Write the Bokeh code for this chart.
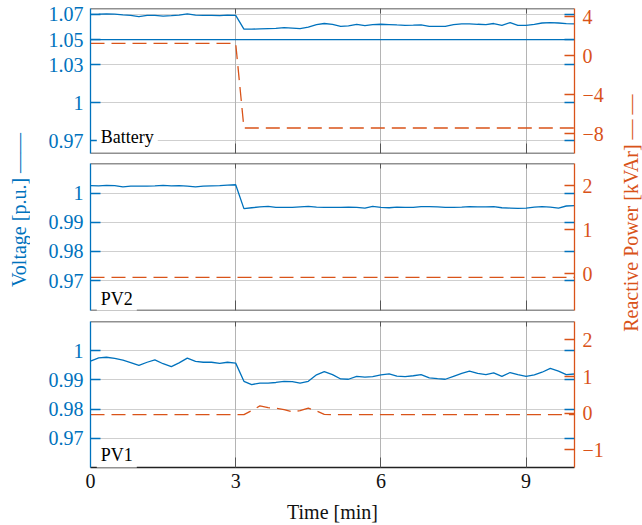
import numpy as np
from bokeh.plotting import figure
from bokeh.layouts import row, column
from bokeh.models import (Range1d, LinearAxis, FixedTicker, CustomJSTickFormatter,
                          Grid, Label)
from bokeh.core.properties import value
from bokeh.embed import file_html
from bokeh.resources import INLINE

BLUE = "#0072BD"
ORANGE = "#D95319"
FONT = "Liberation Serif"

# ---------------- data ----------------
t = [0.00, 0.17, 0.33, 0.50, 0.67, 0.83, 1.00, 1.17, 1.33, 1.50, 1.67, 1.83,
     2.00, 2.17, 2.33, 2.50, 2.67, 2.83, 3.00, 3.17, 3.33, 3.50, 3.67, 3.83,
     4.00, 4.17, 4.33, 4.50, 4.67, 4.83, 5.00, 5.17, 5.33, 5.50, 5.67, 5.83,
     6.00, 6.17, 6.33, 6.50, 6.67, 6.83, 7.00, 7.17, 7.33, 7.50, 7.67, 7.83,
     8.00, 8.17, 8.33, 8.50, 8.67, 8.83, 9.00, 9.17, 9.33, 9.50, 9.67, 9.83,
     10.00]

v_battery = [1.0700, 1.0702, 1.0705, 1.0703, 1.0697, 1.0692, 1.0682, 1.0693,
             1.0692, 1.0686, 1.0690, 1.0695, 1.0704, 1.0694, 1.0693, 1.0692,
             1.0690, 1.0694, 1.0692, 1.0583, 1.0583, 1.0586, 1.0588, 1.0590,
             1.0595, 1.0592, 1.0588, 1.0600, 1.0620, 1.0628, 1.0622, 1.0606,
             1.0610, 1.0622, 1.0611, 1.0620, 1.0622, 1.0620, 1.0617, 1.0614,
             1.0615, 1.0617, 1.0606, 1.0606, 1.0606, 1.0620, 1.0625, 1.0625,
             1.0622, 1.0620, 1.0628, 1.0614, 1.0635, 1.0614, 1.0614, 1.0622,
             1.0632, 1.0635, 1.0632, 1.0627, 1.0625]
q_battery = [1.27, 1.27, 1.27, 1.27, 1.27, 1.27, 1.27, 1.27, 1.27, 1.27,
             1.27, 1.27, 1.27, 1.27, 1.27, 1.27, 1.27, 1.27, 1.27, -7.41,
             -7.41, -7.41, -7.41, -7.41, -7.41, -7.41, -7.41, -7.41, -7.41, -7.41,
             -7.41, -7.41, -7.41, -7.41, -7.41, -7.41, -7.41, -7.41, -7.41, -7.41,
             -7.41, -7.41, -7.41, -7.41, -7.41, -7.41, -7.41, -7.41, -7.41, -7.41,
             -7.41, -7.41, -7.41, -7.41, -7.41, -7.41, -7.41, -7.41, -7.41, -7.41,
             -7.41]
t_ref = [0.0, 10.0]
v_ref_battery = [1.05, 1.05]

v_pv2 = [1.0026, 1.0025, 1.0027, 1.0026, 1.0022, 1.0024, 1.0024, 1.0024,
         1.0025, 1.0027, 1.0025, 1.0026, 1.0024, 1.0022, 1.0024, 1.0025,
         1.0026, 1.0028, 1.0029, 0.9947, 0.9950, 0.9953, 0.9955, 0.9951,
         0.9951, 0.9951, 0.9953, 0.9955, 0.9952, 0.9951, 0.9951, 0.9951,
         0.9952, 0.9951, 0.9949, 0.9955, 0.9951, 0.9950, 0.9952, 0.9951,
         0.9951, 0.9954, 0.9954, 0.9953, 0.9951, 0.9951, 0.9952, 0.9954,
         0.9953, 0.9953, 0.9954, 0.9950, 0.9949, 0.9948, 0.9949, 0.9952,
         0.9954, 0.9952, 0.9949, 0.9956, 0.9957]
q_pv2 = [-0.08, -0.08, -0.08, -0.08, -0.08, -0.08, -0.08, -0.08, -0.08, -0.08,
         -0.08, -0.08, -0.08, -0.08, -0.08, -0.08, -0.08, -0.08, -0.08, -0.08,
         -0.08, -0.08, -0.08, -0.08, -0.08, -0.08, -0.08, -0.08, -0.08, -0.08,
         -0.08, -0.08, -0.08, -0.08, -0.08, -0.08, -0.08, -0.08, -0.08, -0.08,
         -0.08, -0.08, -0.08, -0.08, -0.08, -0.08, -0.08, -0.08, -0.08, -0.08,
         -0.08, -0.08, -0.08, -0.08, -0.08, -0.08, -0.08, -0.08, -0.08, -0.08,
         -0.08]

v_pv1 = [0.9964, 0.9975, 0.9977, 0.9973, 0.9967, 0.9959, 0.9949, 0.9960,
         0.9968, 0.9955, 0.9945, 0.9958, 0.9974, 0.9963, 0.9960, 0.9960,
         0.9956, 0.9960, 0.9957, 0.9895, 0.9884, 0.9889, 0.9889, 0.9891,
         0.9895, 0.9894, 0.9889, 0.9895, 0.9917, 0.9928, 0.9918, 0.9903,
         0.9902, 0.9912, 0.9909, 0.9911, 0.9917, 0.9920, 0.9913, 0.9911,
         0.9914, 0.9918, 0.9907, 0.9904, 0.9902, 0.9912, 0.9922, 0.9930,
         0.9922, 0.9918, 0.9924, 0.9912, 0.9925, 0.9918, 0.9912, 0.9917,
         0.9926, 0.9939, 0.9930, 0.9918, 0.9920]
q_pv1 = [-0.04, -0.04, -0.04, -0.04, -0.04, -0.04, -0.04, -0.04, -0.04, -0.04,
         -0.04, -0.04, -0.04, -0.04, -0.04, -0.04, -0.04, -0.04, -0.04, -0.04,
         0.07, 0.20, 0.15, 0.14, 0.10, 0.04, 0.07, 0.14, 0.06, -0.03,
         -0.04, -0.04, -0.04, -0.04, -0.04, -0.04, -0.04, -0.04, -0.04, -0.04,
         -0.04, -0.04, -0.04, -0.04, -0.04, -0.04, -0.04, -0.04, -0.04, -0.04,
         -0.04, -0.04, -0.04, -0.04, -0.04, -0.04, -0.04, -0.04, -0.04, -0.04,
         -0.04]

x_ticks = [0, 3, 6, 9]
x_grid_ticks = [3, 6, 9]
v_ticks_battery = [0.97, 1.0, 1.03, 1.05, 1.07]
q_ticks_battery = [-8, -4, 0, 4]
v_ticks_pv = [0.97, 0.98, 0.99, 1.0]
q_ticks_pv2 = [0, 1, 2]
q_ticks_pv1 = [-1, 0, 1, 2]
panel_names = ["Battery", "PV2", "PV1"]

# ---------------- helpers ----------------
fmt_left = CustomJSTickFormatter(code="return String(Number(tick.toFixed(2)));")
fmt_right = CustomJSTickFormatter(code="return tick < 0 ? '\u2212' + String(-tick) : String(tick);")
fmt_blank = CustomJSTickFormatter(code="return '';")

W = 588
ML, MR = 60, 44
TICK_FS = "20px"


def make_panel(name, v, q, vr, qr, vt, qt, label_y, h, mt, mb, bottom_labels,
               extra=None):
    p = figure(width=W, height=h, x_range=Range1d(0, 10), y_range=Range1d(*vr),
               output_backend="svg", toolbar_location=None,
               x_axis_location=None, y_axis_location=None,
               min_border_left=ML, min_border_right=MR,
               min_border_top=mt, min_border_bottom=mb)
    p.extra_y_ranges = {"q": Range1d(*qr)}
    p.outline_line_color = None
    p.grid.visible = False
    p.background_fill_color = "white"
    p.border_fill_color = "white"

    p.add_layout(Grid(dimension=1, ticker=FixedTicker(ticks=vt),
                      grid_line_color="#cfcfcf", grid_line_width=1))
    p.add_layout(Grid(dimension=0, ticker=FixedTicker(ticks=x_grid_ticks),
                      grid_line_color="#b4b4b4", grid_line_width=1))

    # data
    p.line(t, q, y_range_name="q", line_color=ORANGE, line_width=1.3,
           line_dash="14 7")
    if extra is not None:
        p.line(extra[0], extra[1], line_color=BLUE, line_width=1.3)
    p.line(t, v, line_color=BLUE, line_width=1.3)

    # left axis
    left = LinearAxis(ticker=FixedTicker(ticks=vt), formatter=fmt_left,
                      axis_line_color=BLUE, axis_line_width=1.3,
                      major_tick_line_color=BLUE, major_tick_line_width=1.3,
                      major_tick_in=10, major_tick_out=0,
                      minor_tick_line_color=None,
                      major_label_text_color=BLUE,
                      major_label_text_font=FONT,
                      major_label_text_font_size=TICK_FS,
                      major_label_standoff=7)
    p.add_layout(left, "left")

    # right (reactive power) axis
    right = LinearAxis(y_range_name="q", ticker=FixedTicker(ticks=qt),
                       formatter=fmt_right,
                       axis_line_color=ORANGE, axis_line_width=1.3,
                       major_tick_line_color=ORANGE, major_tick_line_width=1.3,
                       major_tick_in=10, major_tick_out=0,
                       minor_tick_line_color=None,
                       major_label_text_color=ORANGE,
                       major_label_text_font=FONT,
                       major_label_text_font_size=TICK_FS,
                       major_label_standoff=8)
    p.add_layout(right, "right")

    # mirrored voltage ticks on the right edge
    mirror = LinearAxis(ticker=FixedTicker(ticks=vt), formatter=fmt_blank,
                        fixed_location=10, axis_line_color=None,
                        major_tick_line_color=BLUE, major_tick_line_width=1.3,
                        major_tick_in=10, major_tick_out=0,
                        minor_tick_line_color=None)
    p.add_layout(mirror, "right")

    # top spine with ticks
    top = LinearAxis(ticker=FixedTicker(ticks=x_ticks), formatter=fmt_blank,
                     fixed_location=vr[1], axis_line_color="#222222",
                     axis_line_width=1.3,
                     major_tick_line_color="#555555", major_tick_in=5,
                     major_tick_out=0, minor_tick_line_color=None)
    p.add_layout(top, "above")

    if bottom_labels:
        bottom = LinearAxis(ticker=FixedTicker(ticks=x_ticks),
                            axis_line_color="#222222", axis_line_width=1.3,
                            major_tick_line_color="#555555", major_tick_in=10,
                            major_tick_out=0, minor_tick_line_color=None,
                            major_label_text_font=FONT,
                            major_label_text_font_size=TICK_FS,
                            major_label_text_color="#111111",
                            major_label_standoff=6,
                            axis_label="Time [min]",
                            axis_label_text_font=FONT,
                            axis_label_text_font_size="20px",
                            axis_label_text_font_style="normal",
                            axis_label_text_color="#111111",
                            axis_label_standoff=10)
    else:
        bottom = LinearAxis(ticker=FixedTicker(ticks=x_ticks),
                            formatter=fmt_blank, fixed_location=vr[0],
                            axis_line_color="#222222", axis_line_width=1.3,
                            major_tick_line_color="#555555", major_tick_in=10,
                            major_tick_out=0, minor_tick_line_color=None)
    p.add_layout(bottom, "below")

    p.add_layout(Label(x=0.13, y=label_y, text=name, text_font=FONT,
                       text_font_size="18px", text_color="black",
                       text_baseline="middle", text_align="left",
                       background_fill_color="white", padding=4))
    return p


H1, H2, H3 = 158, 157, 210
p1 = make_panel(panel_names[0], v_battery, q_battery, (0.9598, 1.0747),
                (-10.03, 4.86), v_ticks_battery, q_ticks_battery, 0.9725,
                H1, 8, 5, False, extra=(t_ref, v_ref_battery))
p2 = make_panel(panel_names[1], v_pv2, q_pv2, (0.9597, 1.0102),
                (-0.83, 2.50), v_ticks_pv, q_ticks_pv2, 0.9638,
                H2, 5, 5, False)
p3 = make_panel(panel_names[2], v_pv1, q_pv1, (0.9601, 1.0099),
                (-1.48, 2.50), v_ticks_pv, q_ticks_pv1, 0.9642,
                H3, 6, 58, True)

TOTAL_H = H1 + H2 + H3


def side_fig(text, color, x, y, width):
    f = figure(width=width, height=TOTAL_H, x_range=Range1d(0, 1),
               y_range=Range1d(0, 1), output_backend="svg",
               toolbar_location=None, x_axis_location=None,
               y_axis_location=None, min_border=0)
    f.outline_line_color = None
    f.grid.visible = False
    f.text(x=[x], y=[y], text=[text], angle=np.pi / 2, text_align="center",
           text_baseline="middle", text_color=color,
           text_font=value(FONT), text_font_size="20px")
    return f


left_f = side_fig("Voltage [p.u.] \u2014\u2014", BLUE, 0.6, 0.601, 30)
right_f = side_fig("Reactive Power [kVAr] \u2014 \u2014", ORANGE, 0.5, 0.595, 24)

layout = row(left_f, column(p1, p2, p3), right_f)

open("out.html", "w").write(file_html(layout, INLINE))
